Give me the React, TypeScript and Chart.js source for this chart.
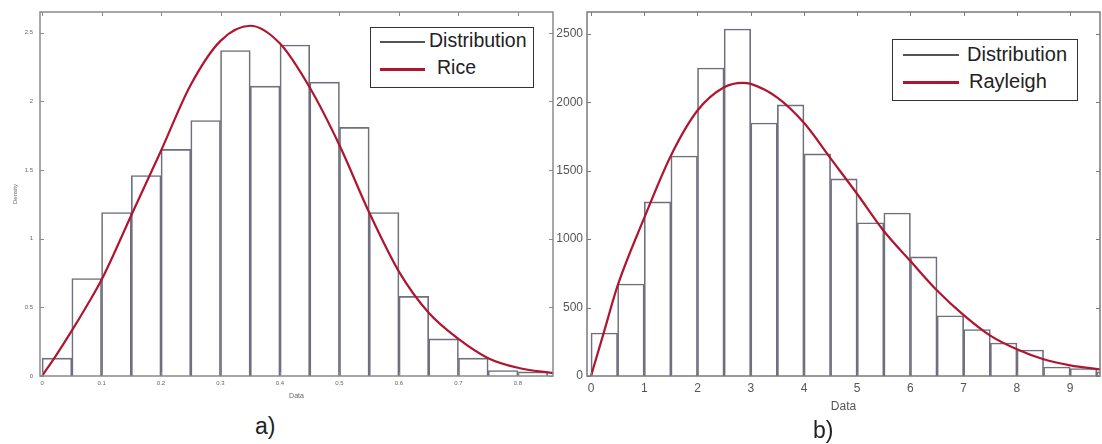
import React, { useEffect, useRef } from 'react';
import { Chart, registerables } from 'chart.js';

Chart.register(...registerables);

// ---------- Data: panel a) Rice ----------
const riceBinStarts = [0, 0.05, 0.1, 0.15, 0.2, 0.25, 0.3, 0.35, 0.4, 0.45, 0.5, 0.55, 0.6, 0.65, 0.7, 0.75, 0.8];
const riceBinWidth = 0.05;
const riceDensity = [0.13, 0.71, 1.19, 1.46, 1.65, 1.86, 2.37, 2.11, 2.41, 2.14, 1.81, 1.19, 0.58, 0.27, 0.13, 0.04, 0.03];
const riceCurveX = [0, 0.025, 0.05, 0.075, 0.1, 0.15, 0.2, 0.25, 0.3, 0.35, 0.4, 0.45, 0.5, 0.55, 0.6, 0.65, 0.7, 0.75, 0.8, 0.86];
const riceCurveY = [0, 0.16, 0.33, 0.51, 0.7, 1.17, 1.64, 2.12, 2.44, 2.55, 2.42, 2.1, 1.68, 1.19, 0.76, 0.46, 0.27, 0.13, 0.06, 0.02];
const riceXTicks = [0, 0.1, 0.2, 0.3, 0.4, 0.5, 0.6, 0.7, 0.8];
const riceYTicks = [0, 0.5, 1, 1.5, 2, 2.5];

// ---------- Data: panel b) Rayleigh ----------
const rayBinStarts = [0, 0.5, 1, 1.5, 2, 2.5, 3, 3.5, 4, 4.5, 5, 5.5, 6, 6.5, 7, 7.5, 8, 8.5, 9, 9.5];
const rayBinWidth = 0.5;
const rayCounts = [314, 672, 1272, 1608, 2251, 2536, 1849, 1981, 1623, 1440, 1120, 1191, 870, 440, 340, 241, 190, 66, 55, 30];
const rayCurveX = [0, 0.25, 0.5, 1, 1.5, 2, 2.5, 2.85, 3, 3.5, 4, 4.5, 5, 5.5, 6, 6.5, 7, 7.5, 8, 8.5, 9, 9.56];
const rayCurveY = [0, 330, 660, 1155, 1610, 1940, 2110, 2142, 2135, 2035, 1850, 1590, 1330, 1060, 840, 625, 445, 295, 195, 122, 78, 48];
const rayXTicks = [0, 1, 2, 3, 4, 5, 6, 7, 8, 9];
const rayYTicks = [0, 500, 1000, 1500, 2000, 2500];

const FONT = "'Liberation Sans', Arial, Helvetica, sans-serif";
const BAR_COLOR = '#6f6f7e';
const CURVE_COLOR = '#b0152f';

const framePlugin = {
  id: 'frame',
  afterDatasetsDraw(chart: any, _args: any, opts: any) {
    const { ctx, chartArea, scales } = chart;
    const { left, right, top, bottom } = chartArea;
    const x = scales.x;
    const y = scales.y;
    const L = opts.tick || 4;
    ctx.save();
    ctx.strokeStyle = opts.color || '#808080';
    ctx.lineWidth = opts.width || 1.5;
    ctx.strokeRect(left, top, right - left, bottom - top);
    ctx.lineWidth = 1;
    ctx.beginPath();
    x.ticks.forEach((t: any) => {
      const px = Math.round(x.getPixelForValue(t.value)) + 0.5;
      ctx.moveTo(px, bottom);
      ctx.lineTo(px, bottom - L);
      ctx.moveTo(px, top);
      ctx.lineTo(px, top + L);
    });
    y.ticks.forEach((t: any) => {
      const py = Math.round(y.getPixelForValue(t.value)) + 0.5;
      ctx.moveTo(left, py);
      ctx.lineTo(left + L, py);
      ctx.moveTo(right, py);
      ctx.lineTo(right - L, py);
    });
    ctx.stroke();
    ctx.restore();
  },
};

type PanelCfg = {
  binStarts: number[];
  binWidth: number;
  values: number[];
  curveX: number[];
  curveY: number[];
  curveLabel: string;
  xTicks: number[];
  yTicks: number[];
  xMin: number;
  xMax: number;
  yMax: number;
  tickFont: number;
  tickColor: string;
  xTitleFont: number;
  yTitle: string | null;
  yWidth: number;
  xHeight: number;
  padRight: number;
  xTickPad: number;
  yTickPad: number;
  frameColor: string;
};

function buildConfig(p: PanelCfg): any {
  const bars = p.binStarts.map((s, i) => ({ x: s + p.binWidth / 2, y: p.values[i] }));
  const curve = p.curveX.map((x, i) => ({ x, y: p.curveY[i] }));
  return {
    type: 'bar',
    data: {
      datasets: [
        {
          type: 'line',
          label: p.curveLabel,
          data: curve,
          borderColor: CURVE_COLOR,
          borderWidth: 2.2,
          pointRadius: 0,
          fill: false,
          cubicInterpolationMode: 'monotone',
          order: 0,
        },
        {
          type: 'bar',
          label: 'Distribution',
          data: bars,
          backgroundColor: 'rgba(255,255,255,0)',
          borderColor: BAR_COLOR,
          borderWidth: 1,
          barPercentage: 1,
          categoryPercentage: 1,
          order: 1,
        },
      ],
    },
    options: {
      responsive: false,
      animation: false,
      events: [],
      layout: { padding: { top: 12, right: p.padRight, left: 0, bottom: 0 } },
      plugins: {
        legend: { display: false },
        tooltip: { enabled: false },
        frame: { color: p.frameColor, width: 1.5, tick: 4 },
      },
      scales: {
        x: {
          type: 'linear',
          min: p.xMin,
          max: p.xMax,
          offset: false,
          grid: { display: false, drawTicks: false, tickLength: 0 },
          border: { display: false },
          afterBuildTicks: (s: any) => {
            s.ticks = p.xTicks.map((v) => ({ value: v }));
          },
          afterFit: (s: any) => {
            s.height = p.xHeight;
          },
          ticks: {
            font: { size: p.tickFont, family: FONT },
            color: p.tickColor,
            padding: p.xTickPad,
            maxRotation: 0,
            autoSkip: false,
            callback: (v: any) => String(v),
          },
          title: {
            display: true,
            text: 'Data',
            font: { size: p.xTitleFont, family: FONT },
            color: p.tickColor,
            padding: { top: 4, bottom: 4 },
          },
        },
        y: {
          type: 'linear',
          min: 0,
          max: p.yMax,
          grid: { display: false, drawTicks: false, tickLength: 0 },
          border: { display: false },
          afterBuildTicks: (s: any) => {
            s.ticks = p.yTicks.map((v) => ({ value: v }));
          },
          afterFit: (s: any) => {
            s.width = p.yWidth;
          },
          ticks: {
            font: { size: p.tickFont, family: FONT },
            color: p.tickColor,
            padding: p.yTickPad,
            autoSkip: false,
            callback: (v: any) => String(v),
          },
          title: {
            display: !!p.yTitle,
            text: p.yTitle || '',
            font: { size: p.tickFont, family: FONT },
            color: p.tickColor,
            padding: { top: 12, bottom: 12 },
          },
        },
      },
    },
    plugins: [framePlugin],
  };
}

function Panel(props: { cfg: PanelCfg; left: number; width: number; height: number }) {
  const ref = useRef<HTMLCanvasElement | null>(null);
  useEffect(() => {
    if (!ref.current) return;
    const chart = new Chart(ref.current, buildConfig(props.cfg));
    return () => chart.destroy();
  }, []);
  return (
    <canvas
      ref={ref}
      width={props.width}
      height={props.height}
      style={{ position: 'absolute', left: props.left, top: 0, width: props.width, height: props.height }}
    />
  );
}

function LegendBox(props: {
  left: number;
  top: number;
  width: number;
  height: number;
  fontSize: number;
  lineLeft: number;
  lineWidth: number;
  rows: { label: string; color: string; thick: number; y: number; textLeft: number }[];
}) {
  return (
    <div
      style={{
        position: 'absolute',
        left: props.left,
        top: props.top,
        width: props.width,
        height: props.height,
        border: '1.5px solid #333',
        background: '#fff',
        boxSizing: 'border-box',
      }}
    >
      {props.rows.map((r) => (
        <React.Fragment key={r.label}>
          <div
            style={{
              position: 'absolute',
              left: props.lineLeft,
              top: r.y - r.thick / 2,
              width: props.lineWidth,
              height: r.thick,
              background: r.color,
            }}
          />
          <div
            style={{
              position: 'absolute',
              left: r.textLeft,
              top: r.y - props.fontSize / 2 - 1,
              fontFamily: FONT,
              fontSize: props.fontSize,
              lineHeight: `${props.fontSize}px`,
              color: '#222',
              whiteSpace: 'nowrap',
            }}
          >
            {r.label}
          </div>
        </React.Fragment>
      ))}
    </div>
  );
}

const leftCfg: PanelCfg = {
  binStarts: riceBinStarts,
  binWidth: riceBinWidth,
  values: riceDensity,
  curveX: riceCurveX,
  curveY: riceCurveY,
  curveLabel: 'Rice',
  xTicks: riceXTicks,
  yTicks: riceYTicks,
  xMin: -0.0035,
  xMax: 0.859,
  yMax: 2.65,
  tickFont: 6,
  tickColor: '#666',
  xTitleFont: 7,
  yTitle: 'Density',
  yWidth: 40,
  xHeight: 28,
  padRight: 3,
  xTickPad: 4,
  yTickPad: 7,
  frameColor: '#8a8a8a',
};

const rightCfg: PanelCfg = {
  binStarts: rayBinStarts,
  binWidth: rayBinWidth,
  values: rayCounts,
  curveX: rayCurveX,
  curveY: rayCurveY,
  curveLabel: 'Rayleigh',
  xTicks: rayXTicks,
  yTicks: rayYTicks,
  xMin: -0.075,
  xMax: 9.56,
  yMax: 2660,
  tickFont: 12,
  tickColor: '#555',
  xTitleFont: 12,
  yTitle: null,
  yWidth: 34,
  xHeight: 42,
  padRight: 2,
  xTickPad: 5,
  yTickPad: 4,
  frameColor: '#7a7a7a',
};

export default function App() {
  return (
    <div
      style={{
        position: 'fixed',
        left: 0,
        top: 0,
        width: 1102,
        height: 444,
        background: '#fff',
        overflow: 'hidden',
      }}
    >
      <Panel cfg={leftCfg} left={0} width={556} height={404} />
      <Panel cfg={rightCfg} left={553} width={549} height={418} />

      <LegendBox
        left={370}
        top={27}
        width={164}
        height={61}
        fontSize={19.5}
        lineLeft={9}
        lineWidth={45}
        rows={[
          { label: 'Distribution', color: '#555', thick: 1.5, y: 14, textLeft: 58 },
          { label: 'Rice', color: CURVE_COLOR, thick: 3, y: 41, textLeft: 66 },
        ]}
      />
      <LegendBox
        left={892}
        top={39}
        width={186}
        height={62}
        fontSize={20}
        lineLeft={10}
        lineWidth={56}
        rows={[
          { label: 'Distribution', color: '#555', thick: 1.5, y: 15, textLeft: 74 },
          { label: 'Rayleigh', color: CURVE_COLOR, thick: 3, y: 42, textLeft: 76 },
        ]}
      />

      <div
        style={{
          position: 'absolute',
          left: 255,
          top: 415,
          fontFamily: FONT,
          fontSize: 23,
          lineHeight: '23px',
          color: '#222',
        }}
      >
        a)
      </div>
      <div
        style={{
          position: 'absolute',
          left: 813,
          top: 419,
          fontFamily: FONT,
          fontSize: 23,
          lineHeight: '23px',
          color: '#222',
        }}
      >
        b)
      </div>
    </div>
  );
}
